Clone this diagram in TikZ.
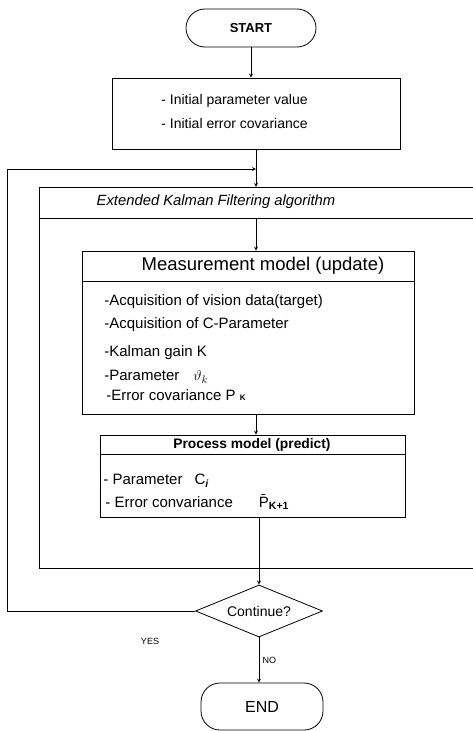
\documentclass[tikz,border=0pt]{standalone}
\usepackage{fontspec}
\setmainfont{Liberation Sans}
\usetikzlibrary{shapes.geometric}

\tikzset{
    terminal/.style={draw, rounded corners=19pt, line width=0.8pt, font=\bfseries\fontsize{13}{15}\selectfont},
    block/.style={draw, line width=0.8pt},
    decision/.style={draw, diamond, aspect=2.4, inner sep=0pt, minimum width=127pt, minimum height=52pt, line width=0.8pt, font=\fontsize{14}{16}\selectfont},
    item/.style={anchor=west, inner sep=0pt, font=\fontsize{15}{17}\selectfont},
    head/.style={inner sep=0pt, font=\fontsize{18.5}{20}\selectfont}
}

\begin{document}
\begin{tikzpicture}[>=stealth, x=1pt, y=-1pt, line width=0.8pt]
    \useasboundingbox (0,0) rectangle (473,731);

    % start and initial values
    \node[terminal, minimum width=130pt, minimum height=38pt] (start) at (251,28) {START};
    \node[block, minimum width=288pt, minimum height=71pt] (init) at (256,113.5) {};
    \node[item, font=\fontsize{14}{16}\selectfont] (i1) at (161,101) {- Initial parameter value};
    \node[item, font=\fontsize{14}{16}\selectfont] (i2) at (161,123) {- Initial error covariance};

    % EKF frame (runs past the right edge)
    \coordinate (ekftop) at (256,187);
    \coordinate (ekfsep) at (256,218);
    \draw (473,187) -- (39,187) -- (39,568) -- (473,568);
    \draw (39,218) -- (473,218);
    \node[head, font=\itshape\fontsize{14.8}{17}\selectfont] (ekfhead) at (216,202) {Extended Kalman Filtering algorithm};

    % measurement model
    \node[block, minimum width=332pt, minimum height=163pt] (meas) at (248,332.5) {};
    \draw ([yshift=-31pt]meas.north west) -- ([yshift=-31pt]meas.north east);
    \node[head] (meashead) at (263,266) {Measurement model (update)};
    \node[item] (m1) at (104,302) {-Acquisition of vision data(target)};
    \node[item] (m2) at (104,325) {-Acquisition of C-Parameter};
    \node[item] (m3) at (104,353) {-Kalman gain K};
    \node[item] (m4) at (104,377) {-Parameter\hspace{14pt}$\vartheta_{k}$};
    \node[item] (m5) at (106,395) {-Error covariance P {\footnotesize\bfseries K}};

    % process model
    \node[block, minimum width=305pt, minimum height=82pt] (proc) at (252.5,476) {};
    \draw ([yshift=-20pt]proc.north west) -- ([yshift=-20pt]proc.north east);
    \node[head, font=\bfseries\fontsize{13.8}{16}\selectfont] (prochead) at (252,445) {Process model (predict)};
    \node[item] (p1) at (103,481) {- Parameter\hspace{12pt}C\textsubscript{\bfseries\itshape i}};
    \node[item] (p2) at (105,502) {- Error convariance\hspace{26pt}\=P\textsubscript{\bfseries K+1}};

    % decision and end
    \node[decision] (dec) at (259,611) {Continue?};
    \node[terminal, font=\fontsize{16}{18}\selectfont, minimum width=122pt, minimum height=47pt] (end) at (262,706.5) {END};
    \node[font=\fontsize{9}{11}\selectfont] (yes) at (150,641) {YES};

    \coordinate (loopcorner) at (7,169);
    \coordinate (loopin) at (256,169);

    % arrows
    \draw[->] (start) -- (start |- init.north);
    \draw[->] (init.south) -- (ekftop);
    \draw[->] (dec.west) -| (loopcorner) -- (loopin);
    \draw[->] (ekfsep) -- (ekfsep |- meas.north);
    \draw[->] (meas.south -| ekfsep) -- (proc.north -| ekfsep);
    \draw[->] (proc.south -| dec) -- (dec.north);
    \draw[->] (dec.south) -- (dec |- end.north) node[midway, right, font=\fontsize{9}{11}\selectfont] {NO};
\end{tikzpicture}
\end{document}
